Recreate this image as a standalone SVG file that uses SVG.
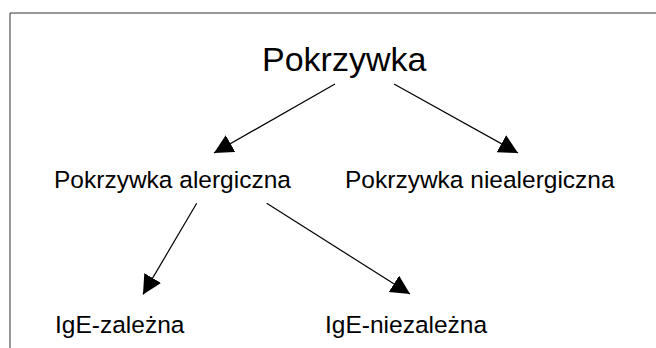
<svg xmlns="http://www.w3.org/2000/svg" width="656" height="348" viewBox="0 0 656 348">
<style>
.t{font-family:"Liberation Sans",Arial,sans-serif;fill:#000}
.big{font-size:34px}
.n{font-size:24.5px}
.c{stroke:#000;stroke-width:1.2;fill:none}
</style>
<defs>
<marker id="ah" markerUnits="userSpaceOnUse" markerWidth="20" markerHeight="20" refX="19" refY="9.7" orient="auto" viewBox="0 0 20 20">
<path d="M0,0 L19,9.7 L0,19.4 Z" fill="#000"/>
</marker>
</defs>
<rect width="656" height="348" fill="#fff"/>
<path d="M10,348 V13 H656" fill="none" stroke="#333" stroke-width="1"/>
<g id="connectors">
<line class="c" x1="335" y1="84" x2="214" y2="153" marker-end="url(#ah)"/>
<line class="c" x1="394" y1="84" x2="518" y2="153" marker-end="url(#ah)"/>
<line class="c" x1="196.7" y1="203.3" x2="143" y2="294.4" marker-end="url(#ah)"/>
<line class="c" x1="266.7" y1="203.3" x2="410" y2="294" marker-end="url(#ah)"/>
</g>
<g id="n-root"><text class="t big" x="262" y="71">Pokrzywka</text></g>
<g id="n-alerg"><text class="t n" x="54" y="188">Pokrzywka alergiczna</text></g>
<g id="n-nonalerg"><text class="t n" x="345" y="188">Pokrzywka niealergiczna</text></g>
<g id="n-ige"><text class="t n" x="55" y="333">IgE-zależna</text></g>
<g id="n-nonige"><text class="t n" x="325" y="333">IgE-niezależna</text></g>
</svg>
